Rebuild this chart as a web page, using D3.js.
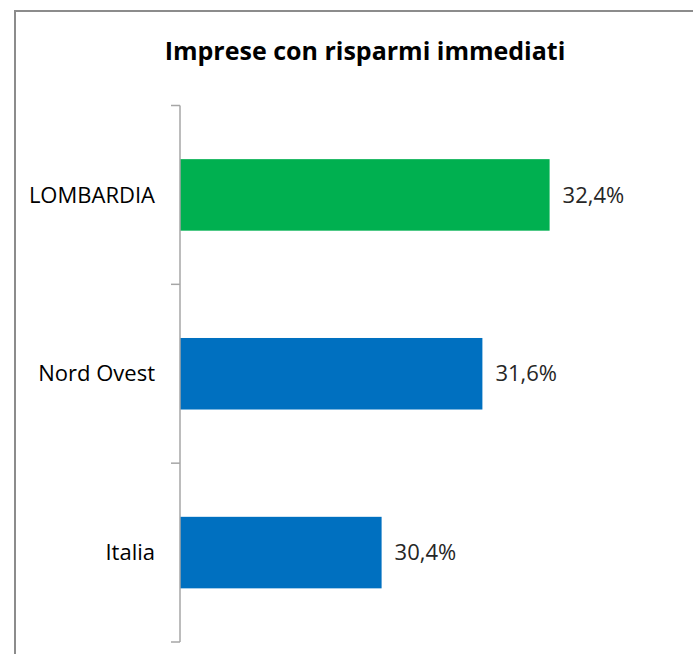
<!DOCTYPE html>
<html>
<head>
<meta charset="utf-8">
<script src="https://cdn.jsdelivr.net/npm/d3@7"></script>
<style>
  html, body { margin: 0; padding: 0; background: #fff; }
  svg { display: block; }
</style>
</head>
<body>
<svg id="chart" width="693" height="654"></svg>
<script>
// data
const categories = ['LOMBARDIA', 'Nord Ovest', 'Italia'];
const values = [32.4, 31.6, 30.4];
const valueLabels = ['32,4%', '31,6%', '30,4%'];
const barColors = ['#00B050', '#0070C0', '#0070C0'];
const title = 'Imprese con risparmi immediati';

const svg = d3.select('#chart');
const font = "'Open Sans', 'Liberation Sans', sans-serif";

// outer frame (right/bottom edges fall outside the picture)
svg.append('rect')
  .attr('x', 15).attr('y', 11).attr('width', 700).attr('height', 700)
  .attr('fill', 'none').attr('stroke', '#8c8c8c').attr('stroke-width', 2);

svg.append('text')
  .attr('x', 365).attr('y', 60)
  .attr('text-anchor', 'middle')
  .attr('font-family', font).attr('font-weight', 'bold')
  .attr('font-size', 25).attr('fill', '#000')
  .text(title);

const x = d3.scaleLinear().domain([28, 34]).range([180, 684]);
const y = d3.scaleBand().domain(categories).range([105.5, 642])
  .paddingInner(0.6).paddingOuter(0.3);

const g = svg.append('g');

// bars
g.selectAll('rect.bar')
  .data(categories)
  .join('rect')
  .attr('class', 'bar')
  .attr('x', x(28))
  .attr('y', d => y(d))
  .attr('width', (d, i) => x(values[i]) - x(28))
  .attr('height', y.bandwidth())
  .attr('fill', (d, i) => barColors[i]);

// value labels
g.selectAll('text.val')
  .data(categories)
  .join('text')
  .attr('class', 'val')
  .attr('x', (d, i) => x(values[i]) + 13)
  .attr('y', d => y(d) + y.bandwidth() / 2)
  .attr('dy', '0.35em')
  .attr('font-family', font).attr('font-size', 22).attr('fill', '#262626')
  .text((d, i) => valueLabels[i]);

// category axis
const axisX = x(28);
const step = y.step();
const y0 = y.range()[0];
g.append('line')
  .attr('x1', axisX).attr('x2', axisX)
  .attr('y1', y0).attr('y2', y.range()[1])
  .attr('stroke', '#a6a6a6').attr('stroke-width', 1.5);
d3.range(categories.length + 1).forEach(i => {
  g.append('line')
    .attr('x1', axisX - 9).attr('x2', axisX)
    .attr('y1', y0 + i * step).attr('y2', y0 + i * step)
    .attr('stroke', '#a6a6a6').attr('stroke-width', 1.5);
});

g.selectAll('text.cat')
  .data(categories)
  .join('text')
  .attr('class', 'cat')
  .attr('x', axisX - 25)
  .attr('y', d => y(d) + y.bandwidth() / 2)
  .attr('dy', '0.35em')
  .attr('text-anchor', 'end')
  .attr('font-family', font).attr('font-size', 22).attr('fill', '#000')
  .text(d => d);
</script>
</body>
</html>
